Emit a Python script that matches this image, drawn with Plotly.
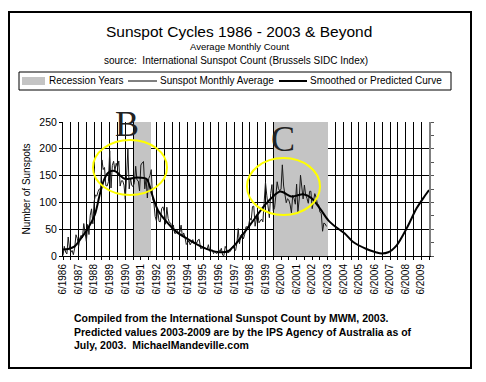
import plotly.graph_objects as go

# ---------------- data ----------------
# Monthly sunspot averages, June 1986 .. May 2003
monthly_start_year = 1986
monthly_start_month = 6
monthly_values = [
    # 1986 Jun-Dec
    1.1, 18.1, 7.4, 3.8, 35.4, 15.2, 6.8,
    # 1987
    10.4, 2.4, 14.7, 39.6, 33.0, 17.4, 33.0, 38.7, 33.9, 60.6, 39.9, 27.1,
    # 1988
    59.0, 40.0, 76.2, 88.0, 60.1, 101.8, 113.8, 111.8, 120.0, 125.1, 125.1, 179.2,
    # 1989
    161.3, 165.1, 131.4, 130.6, 138.5, 196.2, 126.9, 168.9, 176.7, 159.4, 173.0, 165.5,
    # 1990
    177.3, 130.5, 140.3, 140.3, 132.2, 105.4, 149.4, 200.3, 125.2, 145.5, 131.4, 129.7,
    # 1991
    136.9, 167.5, 141.9, 140.0, 121.3, 169.7, 173.7, 176.3, 125.3, 144.1, 108.2, 144.4,
    # 1992
    150.0, 161.1, 106.7, 99.8, 73.8, 65.2, 85.7, 64.5, 63.9, 88.7, 91.8, 82.6,
    # 1993
    59.3, 91.0, 69.8, 62.2, 61.3, 49.8, 57.9, 42.4, 42.5, 47.9, 43.8, 44.2,
    # 1994
    57.6, 35.8, 43.0, 35.0, 21.5, 25.9, 28.1, 20.7, 27.2, 30.6, 23.5, 27.1,
    # 1995
    24.2, 29.9, 31.1, 14.0, 14.5, 15.6, 14.5, 14.3, 11.8, 21.1, 9.0, 10.0,
    # 1996
    11.5, 4.4, 9.2, 4.8, 5.5, 11.8, 8.2, 14.4, 1.6, 0.9, 17.9, 13.3,
    # 1997
    5.7, 7.6, 8.7, 15.5, 18.5, 12.7, 10.4, 24.4, 51.3, 22.8, 39.0, 41.2,
    # 1998
    31.9, 40.3, 54.8, 53.4, 56.3, 70.7, 66.6, 92.2, 92.9, 55.5, 74.0, 81.9,
    # 1999
    62.0, 66.3, 68.8, 63.7, 106.4, 137.7, 113.5, 93.7, 71.5, 116.7, 133.2, 84.6,
    # 2000
    90.1, 112.9, 138.5, 125.5, 121.6, 124.9, 170.1, 130.5, 109.7, 99.4, 106.8, 104.4,
    # 2001
    95.6, 80.6, 113.5, 107.7, 96.6, 134.0, 81.8, 106.4, 150.7, 125.5, 106.5, 132.2,
    # 2002
    114.1, 107.4, 98.4, 120.7, 120.8, 88.3, 99.6, 116.4, 109.6, 97.5, 95.0, 81.6,
    # 2003 Jan-May
    79.5, 46.2, 61.5, 60.0, 55.2,
]

# Smoothed / predicted curve (decimal year, value)
smooth_years = [1986.42, 1986.75, 1987.17, 1987.5, 1987.96, 1988.46, 1988.78, 1989.05,
                1989.3, 1989.6, 1989.85, 1990.1, 1990.38, 1990.7, 1991.02, 1991.4,
                1991.77, 1991.99, 1992.1, 1992.52, 1993.06, 1993.7, 1994.35, 1995.2,
                1995.84, 1996.48, 1997.02, 1997.55, 1998.09, 1998.73, 1999.37, 2000.01,
                2000.3, 2000.55, 2000.85, 2001.09, 2001.45, 2001.83, 2002.37, 2002.91,
                2003.44, 2003.98, 2004.51, 2005.05, 2005.9, 2006.5, 2006.76, 2007.3,
                2007.84, 2008.49, 2009.12, 2009.55, 2009.92]
smooth_values = [12, 13, 18, 30, 49, 77, 115, 142,
                 155, 159, 157, 150, 144, 144, 146, 146,
                 144, 130, 118, 85, 64, 45, 33, 19,
                 11, 7, 9, 24, 45, 70, 95, 114,
                 120, 119, 114, 111, 113, 115, 108, 89,
                 67, 53, 42, 26, 13, 7, 5, 7,
                 20, 52, 89, 108, 123]

# Recession periods (decimal years)
recession_start = [1990.98, 1999.95]
recession_end = [1992.05, 2003.40]
recession_height = 250

# Axis labels
first_year, last_year = 1986, 2009
y_ticks = [0, 50, 100, 150, 200, 250]

# ---------------- derived ----------------
monthly_x = []
for i, _ in enumerate(monthly_values):
    m = monthly_start_month - 1 + i
    monthly_x.append(monthly_start_year + m // 12 + (m % 12) / 12)

tickvals, ticktext = [], []
for yr in range(first_year, last_year + 1):
    tickvals += [yr + 5 / 12, yr + 11 / 12]
    ticktext += [f"6/{yr}", ""]

bar_x = [(s + e) / 2 for s, e in zip(recession_start, recession_end)]
bar_w = [e - s for s, e in zip(recession_start, recession_end)]

W, H = 486, 382
ML, MR, MT, MB = 63, 57, 122, 126
PW, PH = W - ML - MR, H - MT - MB


def px(x):
    return (x - ML) / PW


def py(y):
    return (H - MB - y) / PH


FONT = "Liberation Sans, Arial, sans-serif"
SERIF = "Liberation Serif, Times New Roman, serif"

fig = go.Figure()
fig.add_trace(go.Bar(x=bar_x, y=[recession_height] * len(bar_x), width=bar_w,
                     marker=dict(color="#c4c4c4", line=dict(width=0)),
                     showlegend=False, hoverinfo="skip", yaxis="y"))
fig.add_trace(go.Scatter(x=monthly_x, y=monthly_values, mode="lines",
                         line=dict(color="#1a1a1a", width=1), showlegend=False,
                         yaxis="y2"))
fig.add_trace(go.Scatter(x=smooth_years, y=smooth_values, mode="lines",
                         line=dict(color="#000000", width=2, shape="spline", smoothing=0.8),
                         showlegend=False, yaxis="y2"))

fig.update_layout(
    width=W, height=H,
    margin=dict(l=ML, r=MR, t=MT, b=MB),
    paper_bgcolor="white", plot_bgcolor="white",
    font=dict(family=FONT, color="black", size=10),
    bargap=0,
    xaxis=dict(range=[first_year + 5 / 12, last_year + 11 / 12], tickvals=tickvals,
               ticktext=ticktext, tickangle=-90, tickfont=dict(size=10),
               showgrid=True, gridcolor="#000000", gridwidth=1,
               ticks="outside", ticklen=3, tickcolor="black",
               showline=True, linecolor="black", linewidth=1, zeroline=False),
    yaxis=dict(range=[0, 250], tickvals=y_ticks, tickfont=dict(size=10.5),
               showgrid=True, gridcolor="#000000", gridwidth=1,
               ticks="outside", ticklen=3, tickcolor="black",
               showline=True, linecolor="black", linewidth=1, zeroline=False,
               title=dict(text="Number of Sunspots", font=dict(size=10), standoff=6)),
    yaxis2=dict(range=[0, 250], overlaying="y", side="right",
                tickvals=list(range(0, 251, 25)), showticklabels=False,
                ticks="outside", ticklen=3, tickcolor="#555555",
                showgrid=False, zeroline=False,
                showline=True, linecolor="#808080", linewidth=2),
)

shapes = []
annos = []
# outer border
shapes.append(dict(type="rect", xref="paper", yref="paper", x0=px(9), x1=px(471),
                   y0=py(12), y1=py(368), line=dict(color="black", width=2)))
# legend box
shapes.append(dict(type="rect", xref="paper", yref="paper", x0=px(19), x1=px(451),
                   y0=py(72), y1=py(90), line=dict(color="black", width=1)))
shapes.append(dict(type="rect", xref="paper", yref="paper", x0=px(22), x1=px(45),
                   y0=py(77), y1=py(85), fillcolor="#c4c4c4", line=dict(width=0)))
shapes.append(dict(type="line", xref="paper", yref="paper", x0=px(128), x1=px(157),
                   y0=py(81), y1=py(81), line=dict(color="black", width=1)))
shapes.append(dict(type="line", xref="paper", yref="paper", x0=px(279), x1=px(307),
                   y0=py(81), y1=py(81), line=dict(color="black", width=2)))
for txt, x in [("Recession Years", 47), ("Sunspot Monthly Average", 158),
               ("Smoothed or Predicted Curve", 308)]:
    annos.append(dict(text=txt, x=px(x), y=py(81), xref="paper", yref="paper",
                      xanchor="left", yanchor="middle", showarrow=False,
                      font=dict(size=10)))
# ellipses
shapes.append(dict(type="circle", xref="paper", yref="paper", x0=px(93), x1=px(167),
                   y0=py(140), y1=py(195), line=dict(color="#ffff00", width=2)))
shapes.append(dict(type="circle", xref="paper", yref="paper", x0=px(247), x1=px(320),
                   y0=py(158), y1=py(215), line=dict(color="#ffff00", width=2)))
# titles
annos.append(dict(text="Sunspot Cycles 1986 - 2003 & Beyond", x=px(239), y=py(31.5),
                  xref="paper", yref="paper", showarrow=False, font=dict(size=15.5),
                  xanchor="center", yanchor="middle"))
annos.append(dict(text="Average Monthly Count", x=px(239), y=py(46.5),
                  xref="paper", yref="paper", showarrow=False, font=dict(size=9.5),
                  xanchor="center", yanchor="middle"))
annos.append(dict(text="source:  International Sunspot Count (Brussels SIDC Index)",
                  x=px(236), y=py(60), xref="paper", yref="paper", showarrow=False,
                  font=dict(size=10), xanchor="center", yanchor="middle"))
# letters
annos.append(dict(text="B", x=px(127), y=py(124), xref="paper", yref="paper",
                  showarrow=False, font=dict(size=36, family=SERIF, color="#222"),
                  xanchor="center", yanchor="middle"))
annos.append(dict(text="C", x=px(283), y=py(139), xref="paper", yref="paper",
                  showarrow=False, font=dict(size=36, family=SERIF, color="#222"),
                  xanchor="center", yanchor="middle"))
# footer
annos.append(dict(text="<b>Compiled from the International Sunspot Count by MWM, 2003.<br>"
                       "Predicted values 2003-2009 are by the IPS Agency of Australia as of<br>"
                       "July, 2003.  MichaelMandeville.com</b>",
                  x=px(72), y=py(310), xref="paper", yref="paper", showarrow=False,
                  font=dict(size=10.5), xanchor="left", yanchor="top", align="left"))

fig.update_layout(shapes=shapes, annotations=annos)
fig.write_html("out.html", config={"displayModeBar": False},
               post_script="document.body.style.margin='0';document.body.style.padding='0';")
